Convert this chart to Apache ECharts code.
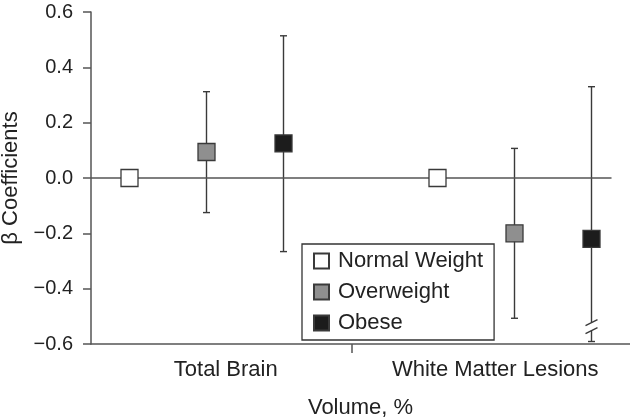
<!DOCTYPE html>
<html>
<head>
<meta charset="utf-8">
<script src="https://cdn.jsdelivr.net/npm/echarts@6/dist/echarts.min.js"></script>
<style>
  html, body { margin: 0; padding: 0; background: #fff; }
  #chart { width: 630px; height: 419px; }
</style>
</head>
<body>
<div id="chart"></div>
<script>
// categories on the x axis
const categories = ['Total Brain', 'White Matter Lesions'];
const groups = ['Normal Weight', 'Overweight', 'Obese'];
const yTicks = [-0.6, -0.4, -0.2, 0, 0.2, 0.4, 0.6];

// slot index of each point, beta, lower and upper CI
const normalPos = [0, 4];
const normalBeta = [0, 0];
const overPos = [1, 5];
const overBeta = [0.094, -0.2];
const overLow = [-0.125, -0.507];
const overHigh = [0.312, 0.107];
const obesePos = [2, 6];
const obeseBeta = [0.125, -0.22];
const obeseLow = [-0.266, -0.591];
const obeseHigh = [0.514, 0.33];
const obeseBroken = [false, true];

const fills = ['#ffffff', '#8f8f8f', '#1c1c1c'];
const edge = '#3a3a3a';
const axisCol = '#555';
const font = 'Liberation Sans, Arial, sans-serif';

var chart = echarts.init(document.getElementById('chart'));

// error bar rows: [x, low, high, broken]
const bars = [];
overPos.forEach((p, i) => bars.push([p, overLow[i], overHigh[i], 0]));
obesePos.forEach((p, i) => bars.push([p, obeseLow[i], obeseHigh[i], obeseBroken[i] ? 1 : 0]));

function renderBar(params, api) {
    const x = api.value(0);
    const top = api.coord([x, api.value(2)]);
    const bot = api.coord([x, api.value(1)]);
    const st = { stroke: edge, lineWidth: 1.4 };
    const cap = 3.5;
    const kids = [
        { type: 'line', shape: { x1: top[0] - cap, y1: top[1], x2: top[0] + cap, y2: top[1] }, style: st },
        { type: 'line', shape: { x1: bot[0] - cap, y1: bot[1], x2: bot[0] + cap, y2: bot[1] }, style: st }
    ];
    if (api.value(3)) {
        // broken axis mark near the lower end
        const gapTop = bot[1] - 19, gapBot = bot[1] - 11;
        kids.push({ type: 'line', shape: { x1: top[0], y1: top[1], x2: top[0], y2: gapTop }, style: st });
        kids.push({ type: 'line', shape: { x1: top[0], y1: gapBot, x2: top[0], y2: bot[1] }, style: st });
        kids.push({ type: 'line', shape: { x1: top[0] - 6, y1: gapTop + 3, x2: top[0] + 6, y2: gapTop - 3 }, style: st });
        kids.push({ type: 'line', shape: { x1: top[0] - 6, y1: gapBot + 3, x2: top[0] + 6, y2: gapBot - 3 }, style: st });
    } else {
        kids.push({ type: 'line', shape: { x1: top[0], y1: top[1], x2: bot[0], y2: bot[1] }, style: st });
    }
    return { type: 'group', children: kids };
}

function pts(pos, vals) {
    return pos.map((p, i) => [p, vals[i]]);
}

function markerSeries(i, pos, vals) {
    return {
        name: groups[i],
        type: 'scatter',
        xAxisIndex: 1,
        symbol: 'rect',
        symbolSize: 17,
        itemStyle: { color: fills[i], borderColor: edge, borderWidth: 1.3, opacity: 1 },
        data: pts(pos, vals),
        z: 5
    };
}

chart.setOption({
    backgroundColor: '#fff',
    animation: false,
    textStyle: { fontFamily: font },
    grid: { left: 91, right: 0, top: 12, bottom: 75, containLabel: false, outerBoundsMode: 'none' },
    xAxis: [{
        type: 'category',
        data: categories,
        position: 'bottom',
        axisLine: { onZero: false, lineStyle: { color: axisCol, width: 1.5 } },
        axisTick: { show: false },
        axisLabel: { color: '#222', fontSize: 22, margin: 15, interval: 0, hideOverlap: false },
        name: 'Volume, %',
        nameLocation: 'middle',
        nameGap: 53,
        nameTextStyle: { color: '#222', fontSize: 22 }
    }, {
        type: 'value',
        min: -0.5,
        max: 6.5,
        position: 'bottom',
        axisLine: { show: false, onZero: false },
        axisTick: { show: true, customValues: [2.88], length: 9, lineStyle: { color: axisCol, width: 1.5 } },
        axisLabel: { show: false },
        splitLine: { show: false }
    }],
    yAxis: {
        type: 'value',
        min: -0.6,
        max: 0.6,
        interval: 0.2,
        axisLine: { show: true, onZero: false, lineStyle: { color: axisCol, width: 1.5 } },
        axisTick: { show: true, length: 8, lineStyle: { color: axisCol, width: 1.5 } },
        splitLine: { show: false },
        axisLabel: {
            color: '#222', fontSize: 20, margin: 18,
            formatter: v => {
                const t = yTicks.find(k => Math.abs(k - v) < 1e-6);
                const n = t === undefined ? v : t;
                return (n < 0 ? '\u2212' : '') + Math.abs(n).toFixed(1);
            }
        },
        name: '\u03b2 Coefficients',
        nameLocation: 'middle',
        nameGap: 69,
        nameTextStyle: { color: '#222', fontSize: 22 }
    },
    legend: {
        orient: 'vertical',
        left: 302,
        top: 244,
        padding: [6, 11, 6, 11],
        itemGap: 9,
        itemWidth: 15,
        itemHeight: 15,
        backgroundColor: '#fff',
        borderColor: '#333',
        borderWidth: 1.3,
        borderRadius: 0,
        data: groups,
        textStyle: { color: '#222', fontSize: 22, padding: [0, 0, 0, 4] }
    },
    series: [{
        type: 'custom',
        xAxisIndex: 1,
        renderItem: renderBar,
        data: bars,
        silent: true,
        z: 2,
        markLine: {
            silent: true,
            symbol: 'none',
            label: { show: false },
            lineStyle: { color: axisCol, width: 1.5, type: 'solid' },
            data: [[{ coord: [-0.5, 0] }, { coord: [6.26, 0] }]]
        }
    },
    markerSeries(0, normalPos, normalBeta),
    markerSeries(1, overPos, overBeta),
    markerSeries(2, obesePos, obeseBeta)]
});
</script>
</body>
</html>
